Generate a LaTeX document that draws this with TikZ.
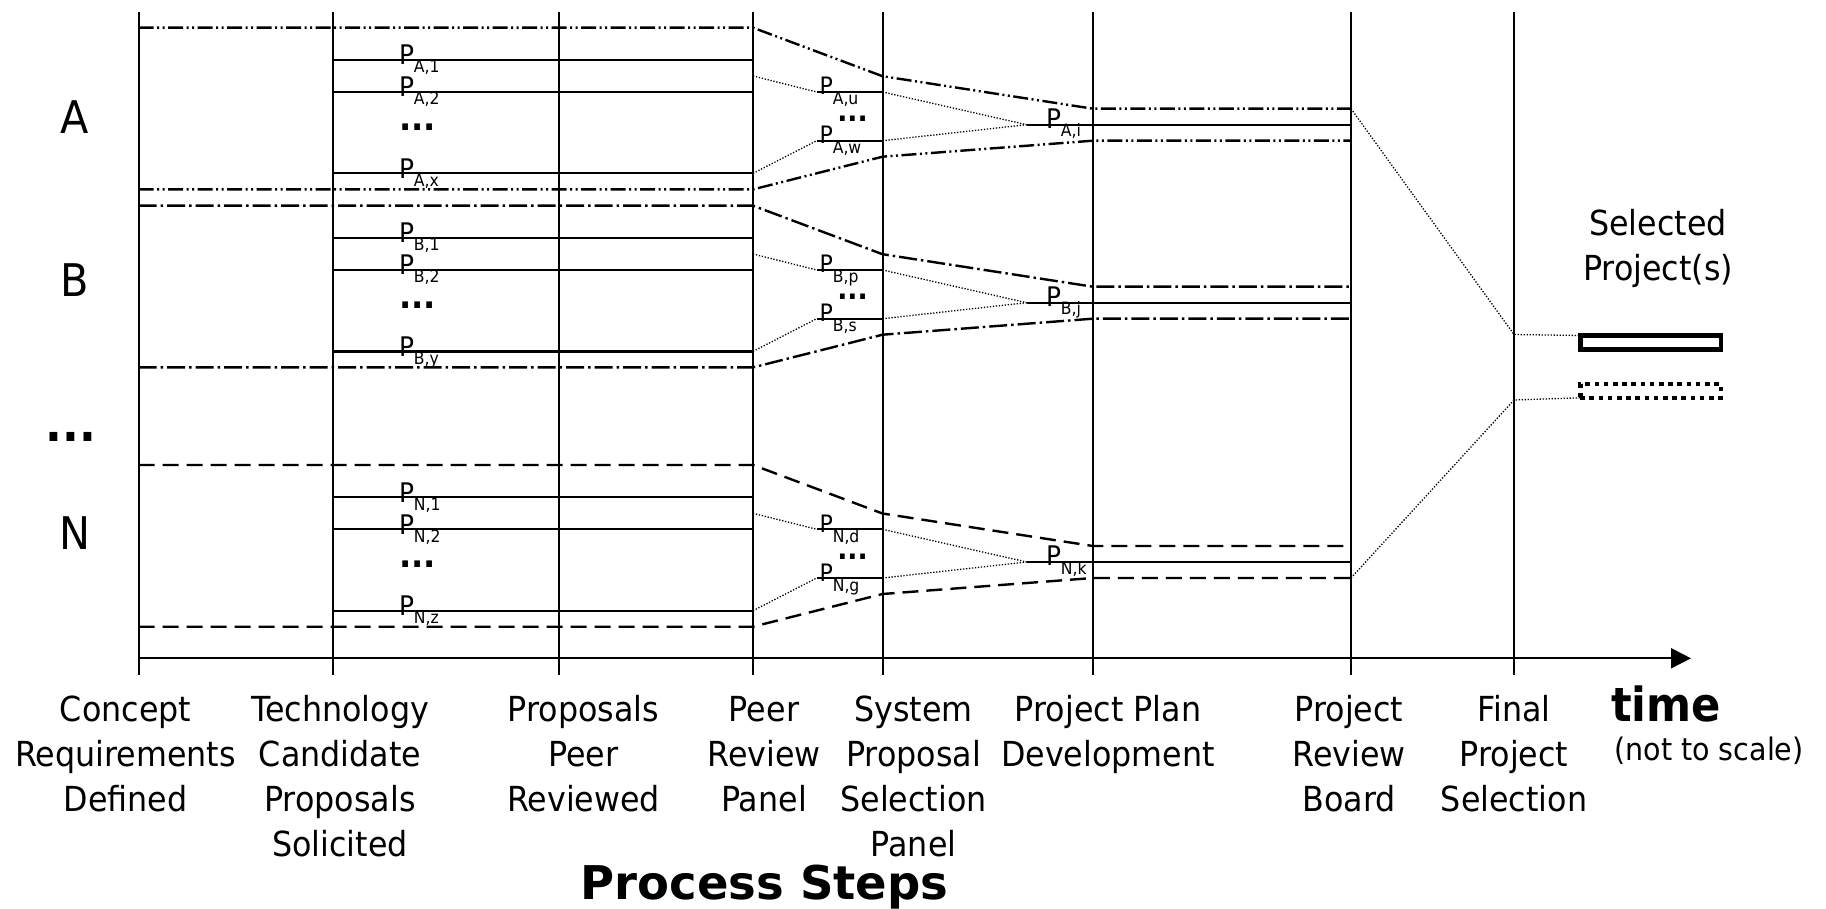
\documentclass[tikz,border=0pt]{standalone}
\usepackage{fontspec}
\setmainfont{DejaVu Sans}[FakeStretch=0.92]
\newfontfamily\headfont{DejaVu Sans}
\usetikzlibrary{arrows.meta}
% proposal label: P with a lowered index
\newcommand\Plab[2][8]{P\raisebox{-#1pt}{\fontsize{17}{17}\selectfont #2}}
% x positions of the process-step lines and of the short proposal segments
\def\VA{138.6}\def\VB{333}\def\VC{559}\def\VD{753}
\def\VE{882.5}\def\VF{1092.8}\def\VG{1351}\def\VH{1514}
\def\XU{816.7}\def\XI{1026.7}

\begin{document}
\begin{tikzpicture}[x=1pt,y=-1pt,
  every node/.style={inner sep=0pt,outer sep=0pt},
  stage/.style={line width=2pt},
  prop/.style={line width=2.2pt},
  famA/.style={line width=2.4pt,dash pattern=on 15pt off 3.5pt on 2pt off 3.5pt on 2pt off 3.5pt},
  famB/.style={line width=2.4pt,dash pattern=on 18pt off 4pt on 2.5pt off 4pt},
  famN/.style={line width=2.4pt,dash pattern=on 16pt off 8pt},
  link/.style={line width=1.3pt,dash pattern=on 1.3pt off 1.7pt},
  plab/.style={anchor=base west,font=\fontsize{27}{27}\selectfont},
  plabs/.style={anchor=base west,font=\fontsize{24}{24}\selectfont},
  dotsbig/.style={font=\fontsize{35}{35}\selectfont\bfseries},
  dotssmall/.style={font=\fontsize{29}{29}\selectfont\bfseries},
  steplab/.style={anchor=base,font=\fontsize{34.5}{45}\selectfont},
  famlab/.style={anchor=base,font=\fontsize{45}{45}\selectfont},
  bigbold/.style={anchor=base,font=\fontsize{47}{47}\selectfont\bfseries},
]
\useasboundingbox (0,0) rectangle (1826,909);

% process-step lines
\foreach \i/\x in {1/\VA,2/\VB,3/\VC,4/\VD,5/\VE,6/\VF,7/\VG,8/\VH}{
  \coordinate (v\i top) at (\x,11.7);
  \coordinate (v\i bot) at (\x,675);
  \draw[stage] (v\i top) -- (v\i bot);
}

% time axis
\coordinate (ax0) at (\VA,658.3);
\coordinate (ax1) at (1691,658.3);
\draw[line width=2pt,-{Triangle[length=20pt,width=20pt]}] (ax0) -- (ax1);

% families of proposals
\foreach \g/\ty/\sty/\sx/\su/\sw/\sk in {A/27.7/famA/x/u/w/i,B/205.7/famB/y/p/s/j,N/465/famN/z/d/g/k}{
  % family envelope
  \coordinate (\g-t1) at (\VA,\ty);
  \coordinate (\g-t4) at (\VD,\ty);
  \coordinate (\g-t5) at (\VE,\ty+48.5);
  \coordinate (\g-t6) at (\VF,\ty+81);
  \coordinate (\g-t7) at (\VG,\ty+81);
  \coordinate (\g-b1) at (\VA,\ty+161.7);
  \coordinate (\g-b4) at (\VD,\ty+161.7);
  \coordinate (\g-b5) at (\VE,\ty+129);
  \coordinate (\g-b6) at (\VF,\ty+113);
  \coordinate (\g-b7) at (\VG,\ty+113);
  \draw[\sty] (\g-t1) -- (\g-t4) -- (\g-t5) -- (\g-t6) -- (\g-t7);
  \draw[\sty] (\g-b1) -- (\g-b4) -- (\g-b5) -- (\g-b6) -- (\g-b7);
  % candidate proposals
  \coordinate (\g-r1) at (\VB,\ty+32.3);  \coordinate (\g-e1) at (\VD,\ty+32.3);
  \coordinate (\g-r2) at (\VB,\ty+64.3);  \coordinate (\g-e2) at (\VD,\ty+64.3);
  \coordinate (\g-rx) at (\VB,\ty+145.7); \coordinate (\g-ex) at (\VD,\ty+145.7);
  \draw[prop] (\g-r1) -- (\g-e1);
  \draw[prop] (\g-r2) -- (\g-e2);
  \draw[prop] (\g-rx) -- (\g-ex);
  % proposals passed on by the panels
  \coordinate (\g-m)  at (\VD,\ty+48.3);
  \coordinate (\g-u0) at (\XU,\ty+64.3); \coordinate (\g-u1) at (\VE,\ty+64.3);
  \coordinate (\g-w0) at (\XU,\ty+113);  \coordinate (\g-w1) at (\VE,\ty+113);
  \coordinate (\g-k0) at (\XI,\ty+97);   \coordinate (\g-k1) at (\VG,\ty+97);
  \draw[link] (\g-m) -- (\g-u0);
  \draw[link] (\g-ex) -- (\g-w0);
  \draw[prop] (\g-u0) -- (\g-u1);
  \draw[prop] (\g-w0) -- (\g-w1);
  \draw[link] (\g-u1) -- (\g-k0);
  \draw[link] (\g-w1) -- (\g-k0);
  \draw[prop] (\g-k0) -- (\g-k1);
  % labels
  \node[plab] (\g-p1) at (399,\ty+37.3) {\Plab{\g,1}};
  \node[plab] (\g-p2) at (399,\ty+69.3) {\Plab{\g,2}};
  \node[dotsbig] (\g-dots2) at (417.7,\ty+99) {...};
  \node[plab] (\g-px) at (399,\ty+150.7) {\Plab{\g,\sx}};
  \node[plabs] (\g-pu) at (819.5,\ty+67.3) {\Plab[10]{\g,\su}};
  \node[dotssmall] (\g-dots5) at (852.5,\ty+91.5) {...};
  \node[plabs] (\g-pw) at (819.5,\ty+116) {\Plab[10]{\g,\sw}};
  \node[plab] (\g-pk) at (1046,\ty+100.6) {\Plab[8.4]{\g,\sk}};
}

% family names
\node[famlab] (famA) at (74.5,134) {A};
\node[famlab] (famB) at (74.5,297) {B};
\node[font=\fontsize{48}{48}\selectfont\bfseries] (famdots) at (71,436.7) {...};
\node[famlab] (famN) at (74.5,549) {N};

% selected projects
\node[steplab] (seltitle) at (1658,236) {\begin{tabular}[t]{@{}c@{}}Selected\\Project(s)\end{tabular}};
\node[draw,line width=4.5pt,minimum width=140.5pt,minimum height=14pt,anchor=north west] (chosen) at (1580.25,335.5) {};
\node[draw,line width=4.5pt,dash pattern=on 4.6pt off 4.6pt,minimum width=140.5pt,minimum height=13.9pt,anchor=north west] (maybe) at (1580.25,383.9) {};
\coordinate (sel-a) at (\VH,334.5);
\coordinate (sel-b) at (\VH,400);
\draw[link] (A-t7) -- (sel-a) -- (chosen.north west);
\draw[link] (N-b7) -- (sel-b) -- (maybe.south west);

% process-step names
\node[steplab] (s1) at (125.5,721.7) {\begin{tabular}[t]{@{}c@{}}Concept\\Requirements\\Defined\end{tabular}};
\node[steplab] (s2) at (340,721.7) {\begin{tabular}[t]{@{}c@{}}Technology\\Candidate\\Proposals\\Solicited\end{tabular}};
\node[steplab] (s3) at (583.5,721.7) {\begin{tabular}[t]{@{}c@{}}Proposals\\Peer\\Reviewed\end{tabular}};
\node[steplab] (s4) at (764,721.7) {\begin{tabular}[t]{@{}c@{}}Peer\\Review\\Panel\end{tabular}};
\node[steplab] (s5) at (913.5,721.7) {\begin{tabular}[t]{@{}c@{}}System\\Proposal\\Selection\\Panel\end{tabular}};
\node[steplab] (s6) at (1108,721.7) {\begin{tabular}[t]{@{}c@{}}Project Plan\\Development\end{tabular}};
\node[steplab] (s7) at (1349,721.7) {\begin{tabular}[t]{@{}c@{}}Project\\Review\\Board\end{tabular}};
\node[steplab] (s8) at (1514,721.7) {\begin{tabular}[t]{@{}c@{}}Final\\Project\\Selection\end{tabular}};

\node[bigbold] (timelab) at (1666,721.7) {time};
\node[anchor=base,font=\fontsize{31}{31}\selectfont] (scalenote) at (1709,760) {(not to scale)};
\node[anchor=base,font=\fontsize{46.5}{46.5}\headfont\bfseries] (steps) at (764.5,899) {Process Steps};
\end{tikzpicture}
\end{document}
